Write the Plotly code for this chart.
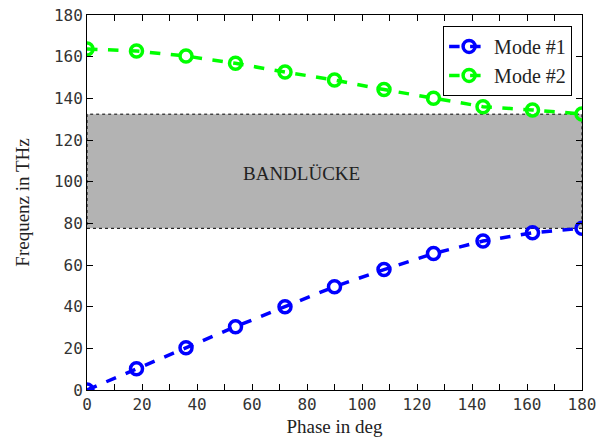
import plotly.graph_objects as go

phase = [0, 18, 36, 54, 72, 90, 108, 126, 144, 162, 180]
mode1 = [0, 10.2, 20.3, 30.4, 40.0, 49.6, 57.8, 65.5, 71.5, 75.5, 77.6]
mode2 = [163.7, 162.7, 160.3, 156.8, 152.6, 148.8, 144.2, 140.0, 136.0, 134.4, 132.5]
gap_low = 77.6
gap_high = 132.4
gap_label = "BANDLÜCKE"
gap_label_pos = (78, 104)

serif = "Liberation Serif"
mono = "DejaVu Sans Mono"

fig = go.Figure()
fig.add_shape(type="rect", xref="x", yref="y", x0=0, x1=180, y0=gap_low, y1=gap_high,
              fillcolor="#b3b3b3", line=dict(color="black", width=1, dash="dot"), layer="below")
fig.add_annotation(x=gap_label_pos[0], y=gap_label_pos[1], text=gap_label, showarrow=False,
                   font=dict(family=serif, size=19, color="#222"))

for name, ys, col in [("Mode #1", mode1, "#0000ff"), ("Mode #2", mode2, "#00ff00")]:
    fig.add_trace(go.Scatter(x=phase, y=ys, name=name, mode="lines+markers",
                             line=dict(color=col, width=3.5, dash="dash"),
                             marker=dict(symbol="circle-open", size=12, color=col,
                                         line=dict(width=3.5, color=col))))

axis_common = dict(showline=True, linecolor="black", linewidth=1, mirror="ticks",
                   ticks="inside", ticklen=6, tickcolor="black", showgrid=False, zeroline=False,
                   automargin=False,
                   tickfont=dict(family=mono, size=16, color="#333"))
fig.update_xaxes(range=[0, 180], dtick=20, tick0=0,
                 minor=dict(ticks="inside", dtick=10, ticklen=6, tickcolor="black"),
                 title=dict(text="Phase in deg", font=dict(family=serif, size=19, color="#222"), standoff=6),
                 **axis_common)
fig.update_yaxes(range=[0, 180], dtick=20, tick0=0,
                 title=dict(text="Frequenz in THz", font=dict(family=serif, size=19, color="#222"), standoff=19),
                 **axis_common)

fig.update_layout(width=610, height=441, margin=dict(l=87, r=28, t=15, b=51),
                  plot_bgcolor="white", paper_bgcolor="white", showlegend=True,
                  legend=dict(x=0.98, y=0.971, xanchor="right", yanchor="top",
                              bgcolor="white", bordercolor="black", borderwidth=1,
                              font=dict(family=serif, size=20, color="#222"),
                              tracegroupgap=0, itemwidth=40))

fig.write_html("out.html")
